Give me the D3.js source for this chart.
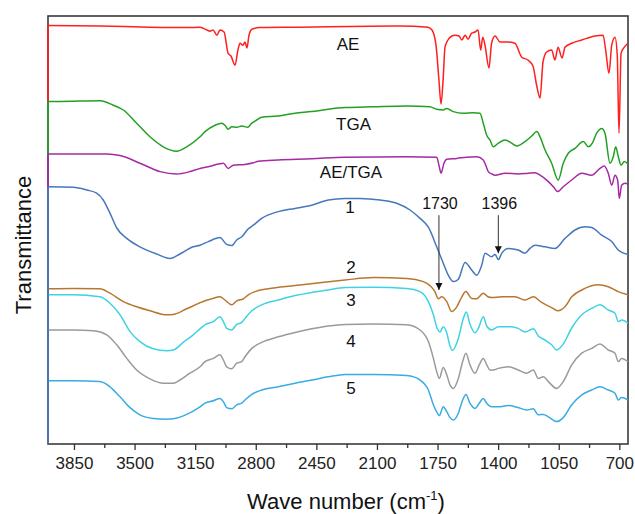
<!DOCTYPE html>
<html><head><meta charset="utf-8">
<script src="https://cdn.jsdelivr.net/npm/d3@7"></script>
<style>html,body{margin:0;padding:0;background:#fff;}svg{display:block;font-family:"Liberation Sans",Arial,sans-serif;}</style>
</head><body><svg id="c" width="635" height="514"></svg>
<script>
// Wavenumber (cm-1) vs offset transmittance (a.u.)
const seriesNames = ["AE","TGA","AE/TGA","1","2","3","4","5"];
const seriesColors = ["#ff1f1f","#23a023","#a52aa5","#4677bd","#b8772f","#3dd3e3","#9a9a9a","#39ace2"];
const majorTicks = [3850,3500,3150,2800,2450,2100,1750,1400,1050,700];
const minorTicks = [3675,3325,2975,2625,2275,1925,1575,1225,875];

const aeData = [[4000,104.6],[3700,104.5],[3411,104.2],[3197,104.1],[3122,104.2],[3082,103.5],[3064,103.2],[3047,103.5],[3024,102.2],[3007,103.5],[2983,103],[2960,97.7],[2943,97],[2920,94.7],[2903,98.5],[2891,100.2],[2874,99.7],[2862,100.5],[2851,99],[2839,102.2],[2822,103.7],[2776,104.1],[2544,104.2],[2256,104.4],[1967,104.5],[1805,104.2],[1782,103.5],[1759,99.7],[1742,91],[1730,85],[1718,91],[1707,99.2],[1690,101],[1667,102],[1649,102.2],[1626,102],[1610,101],[1591,102.2],[1574,101.2],[1553,102.7],[1534,103],[1516,103.5],[1501,98.5],[1489,101.7],[1476,99.7],[1453,94],[1438,100.2],[1418,102],[1389,100.5],[1343,100.5],[1303,100.2],[1264,96.7],[1228,96],[1199,94.5],[1177,89.5],[1158,86.5],[1141,95.5],[1120,98],[1091,98.5],[1072,96],[1054,99.2],[1031,96.5],[1014,99.2],[975,100.2],[917,101],[841,102],[794,102.2],[779,98.5],[760,92.7],[744,99.7],[725,101.7],[712,97.2],[702,77.7],[690,97.7],[671,99.2],[650,100.2]];

const tgaData = [[4000,85.6],[3856,85.7],[3700,85.8],[3623,84.7],[3565,83.5],[3488,80.2],[3411,76.8],[3334,74.3],[3257,73.2],[3199,74.3],[3122,76.8],[3093,78.1],[3035,79.7],[2997,80.2],[2978,79.7],[2959,78.7],[2939,79.3],[2910,79.2],[2881,79.5],[2847,79.2],[2823,80.2],[2795,81],[2766,81.7],[2670,82],[2573,82.7],[2477,83.1],[2381,83.7],[2285,84.1],[2123,84.3],[1928,84.5],[1794,84.3],[1755,83.7],[1717,83.5],[1697,83.9],[1659,83.1],[1601,82.7],[1544,82.8],[1505,82.7],[1486,80.2],[1466,77.2],[1447,76],[1428,74.3],[1399,75.2],[1360,76],[1322,75.2],[1293,74.5],[1245,75.6],[1206,77],[1177,78.1],[1158,76.8],[1129,73.5],[1091,70.2],[1053,66],[1024,70.2],[995,72.7],[956,73.9],[908,75.6],[879,74.3],[856,75.2],[831,77.7],[802,78.9],[783,77.7],[754,70.2],[735,71.8],[721,74.3],[706,71.8],[690,69.7],[671,70.6],[650,70]];

const aeTgaData = [[4000,72.5],[3661,72.5],[3584,72.1],[3469,70.2],[3353,68.1],[3257,67.5],[3180,68.1],[3122,68.9],[3074,69.3],[3016,70],[2987,70.2],[2959,68.9],[2930,69.7],[2862,69.9],[2814,70.3],[2785,70.7],[2670,71],[2477,71.3],[2285,71.7],[1928,71.8],[1755,71.7],[1740,69.3],[1730,67.7],[1713,70.2],[1697,71.2],[1639,71.4],[1582,71.7],[1524,71.8],[1486,71],[1470,69.5],[1457,68.1],[1436,67.5],[1418,67.2],[1360,67.7],[1284,67.5],[1226,67.7],[1187,67.8],[1158,67.2],[1110,65.6],[1081,64.3],[1056,63.1],[1024,64.3],[975,66],[917,67.7],[860,67.2],[812,68.9],[787,69.5],[764,67.7],[744,64.7],[725,67.2],[710,66],[700,61.4],[687,64.7],[667,65.2],[650,65]];

const s1Data = [[4000,64.3],[3854,64.2],[3776,63.5],[3719,62.7],[3681,61],[3642,57.7],[3603,54],[3545,51.4],[3469,49.3],[3372,47.5],[3295,46.4],[3238,47.5],[3161,49.3],[3122,49.7],[3074,50.6],[3007,51.6],[2968,49.9],[2939,49.6],[2910,51],[2881,51.8],[2843,53.8],[2814,54.7],[2766,56.4],[2670,58.1],[2573,58.9],[2477,59.7],[2381,61],[2285,61.4],[2198,61.4],[2082,61],[1986,60.2],[1909,58.5],[1851,56.4],[1803,54.2],[1755,49.3],[1717,45.2],[1688,42.2],[1659,40.6],[1630,41.2],[1591,45.4],[1553,43.5],[1524,42.2],[1495,44.7],[1476,47.7],[1437,46.8],[1418,47.4],[1399,46.1],[1379,47.7],[1341,48.9],[1284,48.5],[1245,47.7],[1216,48.9],[1187,49.7],[1129,49.3],[1072,48.9],[1014,51.4],[956,53.5],[898,54.3],[860,54.1],[802,52.2],[744,50.6],[706,48.5],[650,47.4]];

const s2Data = [[4000,38.8],[3854,38.9],[3700,38.8],[3642,37.7],[3565,35.6],[3488,34.3],[3411,33.3],[3314,32.3],[3276,32.4],[3199,33.8],[3122,35.3],[3093,35.8],[3054,36.3],[3007,36.8],[2978,36],[2939,34.8],[2910,35.8],[2872,36.3],[2843,37.3],[2804,38.1],[2728,38.8],[2573,39.6],[2419,40.4],[2285,41],[2121,41.6],[1928,41.4],[1832,40.6],[1794,39.6],[1765,38.1],[1746,36.3],[1726,36.8],[1697,35.6],[1668,33.1],[1639,34.3],[1610,36.8],[1586,38.1],[1553,36.4],[1524,36.3],[1486,37.7],[1459,36.8],[1437,36.6],[1379,36.8],[1303,36.8],[1245,36],[1197,36.8],[1149,35.4],[1091,34.1],[1056,33.3],[1014,34.3],[975,36.8],[917,38.5],[821,39.8],[764,39.3],[706,38.1],[650,37.3]];

const s3Data = [[4000,37.3],[3854,37.3],[3700,36.8],[3642,35.2],[3584,32.3],[3526,28.1],[3469,25.6],[3392,23.8],[3314,23.3],[3276,23.5],[3219,25.4],[3161,27.3],[3122,28.8],[3093,29.8],[3045,30.6],[3007,31.8],[2987,30.6],[2968,28.9],[2939,28.5],[2910,29.9],[2881,30.4],[2862,31.4],[2823,33.3],[2766,34.8],[2670,36],[2573,37.1],[2477,37.9],[2381,38.5],[2285,39.1],[2121,39.2],[1928,38.9],[1851,38.1],[1803,35.6],[1774,32.3],[1751,28.8],[1736,28],[1717,29.3],[1697,27.8],[1678,24.5],[1664,23.4],[1630,26.4],[1601,31.4],[1584,33],[1563,30],[1534,27.8],[1514,28.9],[1486,31.8],[1466,29.5],[1437,28.5],[1399,29.3],[1322,29.3],[1284,28.9],[1245,28],[1197,28.8],[1168,27],[1129,26],[1091,24.8],[1062,23.5],[1024,25],[975,29],[917,32.3],[860,33.9],[812,34.8],[764,33.5],[725,32.7],[706,30.6],[687,31],[650,30.2]];

const s4Data = [[4000,28.5],[3854,28.5],[3738,28.3],[3661,27.3],[3603,24.8],[3545,21.4],[3488,18.5],[3411,16.3],[3334,15.2],[3276,15.2],[3238,16],[3180,17.7],[3122,19.3],[3093,20.6],[3045,21.4],[3007,22.3],[2987,21],[2968,19.3],[2939,18.8],[2910,20.2],[2881,20.6],[2862,21.8],[2823,23.9],[2766,25.4],[2670,26.8],[2573,27.9],[2477,28.8],[2381,29.5],[2285,29.9],[2121,30],[1928,29.8],[1851,28.5],[1803,25.6],[1774,21.4],[1755,18.1],[1740,16.4],[1717,19.1],[1697,17.3],[1678,14.8],[1659,13.9],[1630,16.4],[1605,20.6],[1586,22.7],[1563,19.8],[1534,17.7],[1509,19.8],[1486,21.4],[1466,19.8],[1447,18.5],[1428,18.5],[1399,18.9],[1341,19.3],[1284,18.5],[1235,17.7],[1197,18.5],[1168,16.4],[1139,16.8],[1110,15.6],[1062,13.9],[1024,15.6],[975,19.8],[917,22.7],[860,23.9],[812,25],[764,23.5],[725,22.7],[706,20.6],[687,21.4],[650,20.6]];

const s5Data = [[4000,15.8],[3854,15.8],[3700,15.6],[3642,14.3],[3584,11.8],[3526,9.1],[3469,7.3],[3392,6.4],[3314,6.2],[3276,6.3],[3199,7.4],[3122,9.3],[3093,10.2],[3045,10.8],[3007,11.4],[2987,10.6],[2968,9.1],[2939,8.8],[2910,9.8],[2881,10.2],[2862,11],[2823,12.4],[2766,13.5],[2670,14.3],[2573,15.2],[2477,16],[2381,16.8],[2285,17.4],[2121,17.4],[1928,17.1],[1851,16],[1803,13.5],[1774,9.8],[1751,7.7],[1740,7.1],[1717,9.3],[1697,8.1],[1678,6.6],[1659,6],[1630,7.7],[1605,11],[1586,12.4],[1563,10.2],[1534,8.9],[1509,10.2],[1486,11.4],[1466,10.2],[1437,9.3],[1399,9.3],[1341,9.6],[1284,9.1],[1235,8.5],[1197,8.8],[1168,7.3],[1139,7.4],[1110,6.8],[1062,5.6],[1024,6.6],[975,9.8],[917,12.3],[860,13.5],[812,14.3],[764,13.5],[725,12.7],[706,11],[687,11.6],[650,11]];

const allSeries = [aeData,tgaData,aeTgaData,s1Data,s2Data,s3Data,s4Data,s5Data];

// series label anchors (wavenumber, value)
const labelWn = [2267,2235,2250,2256,2250,2250,2250,2250];
const labelVal = [98.5,78.5,66.4,57.7,42.7,34.5,24.3,12.5];

// peak annotations: label, wavenumber, label value, arrow top, arrow tip
const peakLabels = ["1730","1396"];
const peakWn = [1742,1399];
const peakLabelVal = [58.7,58.7];
const arrowFrom = [57.2,57.2];
const arrowTo = [38.5,47.7];

const svg = d3.select("#c");
const m = {l:48, r:7, t:16, b:70};
const W = 635, H = 514;
const x = d3.scaleLinear().domain([4000,650]).range([m.l, W-m.r]);
const y = d3.scaleLinear().domain([0,107]).range([H-m.b, m.t]);

const defs = svg.append("defs");
defs.append("marker").attr("id","ah").attr("viewBox","0 0 10 10").attr("refX",10).attr("refY",5)
  .attr("markerWidth",7).attr("markerHeight",9).attr("markerUnits","userSpaceOnUse").attr("orient","auto")
  .append("path").attr("d","M0,0L10,5L0,10Z").attr("fill","#111");

// left edge coloured segments (spectra start joins)
const starts = allSeries.map(s => s[0][1]);
const leftSegs = [];
for (let i=0;i<starts.length;i++){
  const top = starts[i];
  const bot = i<3 ? starts[i+1] : 0;
  if (i<=3) leftSegs.push({c:seriesColors[i], y0:top, y1:bot});
}
// frame
svg.append("rect").attr("x",m.l).attr("y",m.t).attr("width",W-m.r-m.l).attr("height",H-m.b-m.t)
  .attr("fill","none").attr("stroke","#3a3a3a").attr("stroke-width",1.6);

// axes
const gx = svg.append("g").attr("transform",`translate(0,${H-m.b})`);
gx.call(d3.axisBottom(x).tickValues(majorTicks).tickSize(6).tickPadding(7).tickFormat(d3.format("d")));
gx.select(".domain").remove();
gx.selectAll(".tick line").attr("stroke","#333").attr("stroke-width",1.3);
gx.selectAll(".tick text").attr("font-size",17).attr("fill","#222").attr("font-family","'Liberation Sans',Arial,sans-serif");
const gm = svg.append("g").attr("transform",`translate(0,${H-m.b})`);
gm.call(d3.axisBottom(x).tickValues(minorTicks).tickSize(4).tickFormat(""));
gm.select(".domain").remove();
gm.selectAll(".tick line").attr("stroke","#333").attr("stroke-width",1.3);

// spectra
const line = d3.line().x(d=>x(d[0])).y(d=>y(d[1])).curve(d3.curveMonotoneX);
svg.append("g").selectAll("path").data(allSeries).join("path")
  .attr("d",line).attr("fill","none")
  .attr("stroke",(d,i)=>seriesColors[i]).attr("stroke-width",1.5).attr("stroke-linejoin","round");

svg.append("g").selectAll("line").data(leftSegs).join("line")
  .attr("x1",x(4000)).attr("x2",x(4000)).attr("y1",d=>y(d.y0)).attr("y2",d=>y(d.y1))
  .attr("stroke",d=>d.c).attr("stroke-width",1.6);

// series labels
svg.append("g").selectAll("text").data(seriesNames).join("text")
  .attr("x",(d,i)=>x(labelWn[i])).attr("y",(d,i)=>y(labelVal[i]))
  .attr("text-anchor","middle").attr("font-size",17).attr("fill","#111").text(d=>d);

// peak annotations
const pk = svg.append("g");
peakLabels.forEach((t,i)=>{
  pk.append("text").attr("x",x(peakWn[i])+1).attr("y",y(peakLabelVal[i])).attr("text-anchor","middle")
    .attr("font-size",16).attr("fill","#111").text(t);
  pk.append("line").attr("x1",x(peakWn[i])).attr("x2",x(peakWn[i]))
    .attr("y1",y(arrowFrom[i])).attr("y2",y(arrowTo[i]))
    .attr("stroke","#333").attr("stroke-width",1).attr("marker-end","url(#ah)");
});

// axis titles
const xt = svg.append("text").attr("x",(m.l+W-m.r)/2 + 8).attr("y",H-5).attr("text-anchor","middle")
  .attr("font-size",22).attr("fill","#111");
xt.append("tspan").text("Wave number (cm");
xt.append("tspan").attr("dy",-9).attr("font-size",13).text("-1");
xt.append("tspan").attr("dy",9).text(")");

svg.append("text").attr("transform",`translate(31,${245}) rotate(-90)`).attr("text-anchor","middle")
  .attr("font-size",22).attr("fill","#111").text("Transmittance");
</script></body></html>
